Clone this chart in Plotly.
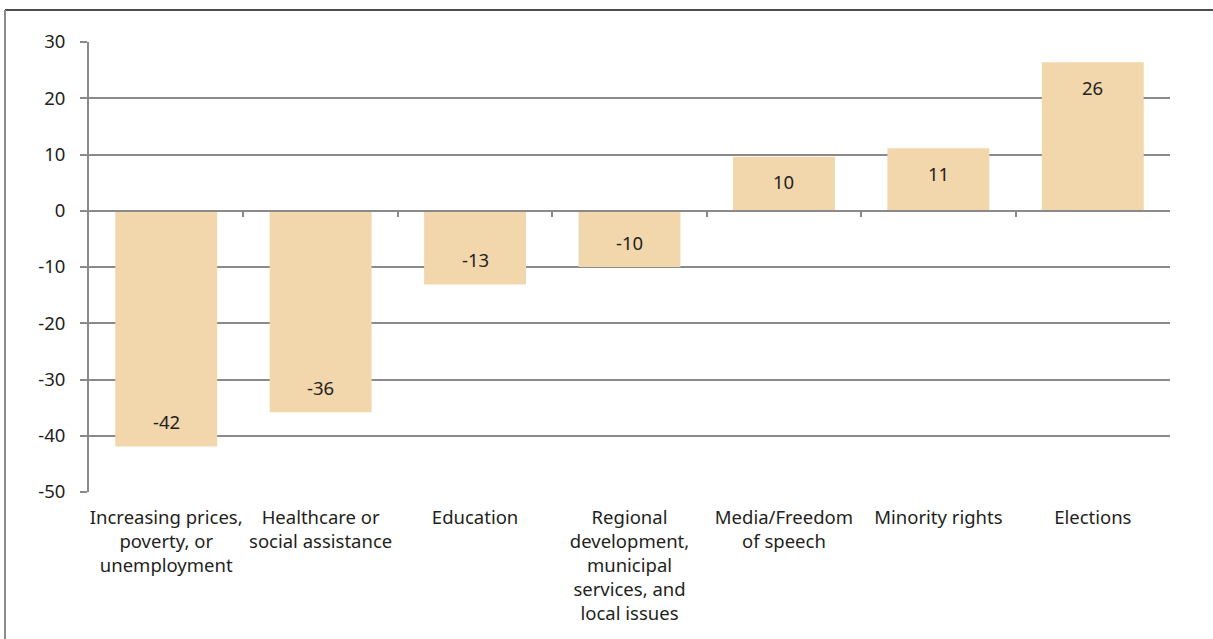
import plotly.graph_objects as go

categories = [
    "Increasing prices,<br>poverty, or<br>unemployment",
    "Healthcare or<br>social assistance",
    "Education",
    "Regional<br>development,<br>municipal<br>services, and<br>local issues",
    "Media/Freedom<br>of speech",
    "Minority rights",
    "Elections",
]
values = [-41.9, -35.8, -13.1, -10.0, 9.6, 11.1, 26.4]
labels = ["-42", "-36", "-13", "-10", "10", "11", "26"]
y_ticks = [30, 20, 10, 0, -10, -20, -30, -40, -50]

FONT = "Noto Sans"
TXT = "#231f20"
GRID = "#8a8a8c"
BAR = "#f2d6ac"
FS = 18.5

W, H = 1213, 639
ml, mr, mt, mb = 89, 43, 42, 147
pw, ph = W - ml - mr, H - mt - mb

fig = go.Figure()
fig.add_trace(go.Bar(
    x=list(range(len(categories))), y=values,
    marker=dict(color=BAR, line=dict(width=0)),
    width=0.66, hoverinfo="skip",
))
# dummy trace for zero-axis boundary ticks
fig.add_trace(go.Scatter(x=[None], y=[None], xaxis="x2", showlegend=False))

for i, (v, lab) in enumerate(zip(values, labels)):
    fig.add_annotation(
        x=i, y=v, xref="x", yref="y", text=lab, showarrow=False,
        yshift=-25 if v > 0 else 25,
        font=dict(family=FONT, size=FS, color=TXT),
    )

ymin, ymax = -50, 30
zero_frac = (0 - ymin) / (ymax - ymin)

fig.update_layout(
    width=W, height=H,
    margin=dict(l=ml, r=mr, t=mt, b=mb),
    paper_bgcolor="white", plot_bgcolor="white",
    showlegend=False, bargap=0.34,
    font=dict(family=FONT, size=FS, color=TXT),
    xaxis=dict(
        range=[-0.5, 6.5], tickmode="array",
        tickvals=list(range(len(categories))), ticktext=categories,
        showgrid=False, zeroline=False, showline=False, ticks="",
        tickfont=dict(family=FONT, size=FS, color=TXT),
        ticklabelstandoff=12,
        fixedrange=True,
    ),
    xaxis2=dict(
        overlaying="x", anchor="free", position=zero_frac, side="bottom",
        range=[-0.5, 6.5], tickmode="array",
        tickvals=[i + 0.5 for i in range(len(categories) - 1)],
        showticklabels=False, ticks="outside", ticklen=5, tickwidth=1.5,
        tickcolor=GRID, showline=True, linecolor=GRID, linewidth=2,
        showgrid=False, zeroline=False,
    ),
    yaxis=dict(
        range=[ymin, ymax], tickvals=y_ticks,
        ticktext=[str(v) for v in y_ticks],
        showgrid=True, gridcolor=GRID, gridwidth=1.5,
        zeroline=False, showline=True, linecolor=GRID, linewidth=2,
        ticks="outside", ticklen=7, tickwidth=1.5, tickcolor=GRID,
        tickfont=dict(family=FONT, size=FS, color=TXT),
        ticklabelstandoff=11,
    ),
)

# outer frame (left and top edges of the figure box)
bx = (5 - ml) / pw
by = 1 + (mt - 10) / ph
fig.add_shape(type="line", xref="paper", yref="paper",
              x0=bx, x1=(W - ml) / pw, y0=by, y1=by,
              line=dict(color="#4d4d4d", width=2))
fig.add_shape(type="line", xref="paper", yref="paper",
              x0=bx, x1=bx, y0=by, y1=-(H - mt) / ph,
              line=dict(color="#8a8a8c", width=2))

fig.write_html("out.html")
